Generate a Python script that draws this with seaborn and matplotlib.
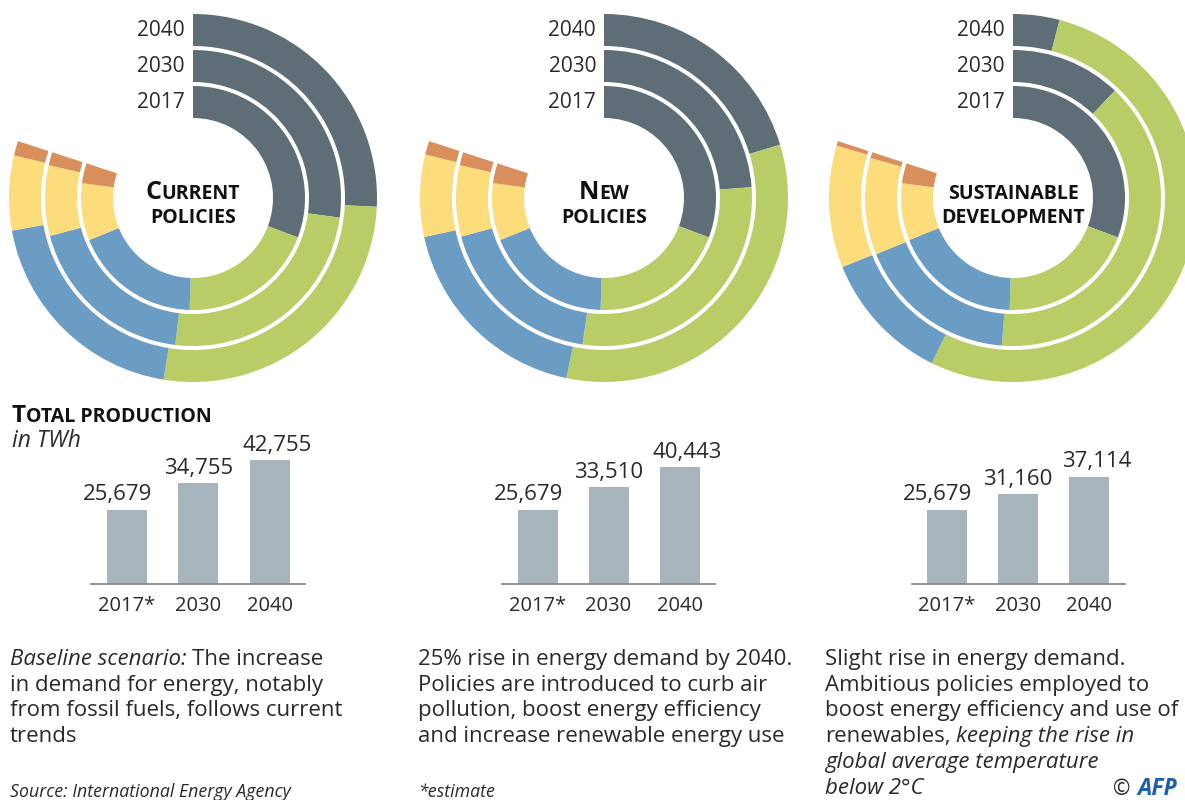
import matplotlib
matplotlib.use("Agg")
import matplotlib.pyplot as plt
import seaborn as sns

sns.set_theme(style="white")
plt.rcParams['font.family'] = ['Open Sans', 'DejaVu Sans']

# ---------------- data ----------------
ring_years = ["2017", "2030", "2040"]
sources = ["Coal", "Renewables", "Gas", "Nuclear", "Oil"]

# share of electricity generation (%)
current_2017 = [38.4, 24.7, 23.0, 10.3, 3.6]
current_2030 = [33.9, 31.0, 23.7, 9.6, 1.8]
current_2040 = [32.2, 33.5, 24.5, 8.2, 1.6]
new_2017 = [38.4, 24.7, 23.0, 10.3, 3.6]
new_2030 = [29.8, 35.6, 23.1, 9.7, 1.8]
new_2040 = [25.4, 41.2, 22.9, 9.0, 1.5]
sds_2017 = [38.4, 24.7, 23.0, 10.3, 3.6]
sds_2030 = [15.1, 48.9, 22.0, 13.2, 0.8]
sds_2040 = [5.1, 66.5, 14.5, 13.4, 0.5]

bar_labels = ["2017*", "2030", "2040"]
current_total = [25679, 34755, 42755]
new_total = [25679, 33510, 40443]
sds_total = [25679, 31160, 37114]

# ---------------- style ----------------
W, H = 1185, 800
COLORS = ['#5e6d76', '#b9cd67', '#6b9cc4', '#fddc7c', '#d98f5b']
BAR = '#a7b4bc'
TXT = '#2a2a2a'

fig = plt.figure(figsize=(W / 100, H / 100), dpi=100)
fig.patch.set_facecolor('white')
ax = fig.add_axes([0, 0, 1, 1])
renderer = fig.canvas.get_renderer()

SWEEP = 0.8  # rings cover 80% of a full circle
RING_W = 32
RADII = [112, 148, 184]
CY = 198
centers_x = [193, 604, 1013]

scenarios = [
    [current_2017, current_2030, current_2040],
    [new_2017, new_2030, new_2040],
    [sds_2017, sds_2030, sds_2040],
]

for cx, rings in zip(centers_x, scenarios):
    for r, shares in zip(RADII, rings):
        total = sum(shares)
        vals = list(shares) + [total * (1 - SWEEP) / SWEEP]
        wedges, _ = ax.pie(vals, radius=r, center=(cx, H - CY), startangle=90,
                           counterclock=False, colors=COLORS + ['white'],
                           wedgeprops=dict(width=RING_W, linewidth=0, edgecolor='none'),
                           frame=True)
        wedges[-1].set_visible(False)
    for r, yr in zip(RADII, ring_years):
        ax.text(cx - 8, H - (CY - (r - RING_W / 2)), yr, ha='right', va='center',
                fontsize=15, color=TXT)

ax.set_xlim(0, W)
ax.set_ylim(0, H)
ax.axis('off')


def text_w(s, kw):
    t = ax.text(0, 0, s, **kw)
    w = t.get_window_extent(renderer).width
    t.remove()
    return w


def draw_runs(x, y_top, runs, ha='left'):
    """runs: list of (text, kwargs, space_before). y_top is baseline from top."""
    widths = []
    gaps = []
    for s, kw, sp in runs:
        widths.append(text_w(s, kw))
        gaps.append(text_w("a a", kw) - text_w("aa", kw) if sp else 0)
    total = sum(widths) + sum(gaps)
    if ha == 'center':
        x = x - total / 2
    for (s, kw, sp), w, g in zip(runs, widths, gaps):
        x += g
        ax.text(x, H - y_top, s, ha='left', va='baseline', **kw)
        x += w


BIG = dict(fontsize=18, fontweight='bold', color='#111')
SMALL = dict(fontsize=14, fontweight='bold', color='#111')

titles = [
    [[("C", BIG, False), ("URRENT", SMALL, False)], [("POLICIES", SMALL, False)]],
    [[("N", BIG, False), ("EW", SMALL, False)], [("POLICIES", SMALL, False)]],
    [[("SUSTAINABLE", SMALL, False)], [("DEVELOPMENT", SMALL, False)]],
]
for cx, (l1, l2) in zip(centers_x, titles):
    draw_runs(cx, 199, l1, ha='center')
    draw_runs(cx, 223, l2, ha='center')

# bar title
draw_runs(12, 422, [("T", dict(fontsize=17.5, fontweight='bold', color='#111'), False),
                    ("OTAL PRODUCTION", dict(fontsize=14, fontweight='bold', color='#111'), False)])
ax.text(12, H - 447, "in TWh", fontsize=16.5, fontstyle='italic', color=TXT, va='baseline')

# ---------------- bar charts ----------------
bar_specs = [
    (127.0, 71.25, current_total),
    (537.5, 71.0, new_total),
    (947.0, 71.0, sds_total),
]
BASE = 583.5
AX_H = 144
label_dx = [-9, 0, 8]
for c0, step, vals in bar_specs:
    left = c0 - step / 2
    bax = fig.add_axes([left / W, (H - BASE) / H, 3 * step / W, AX_H / H])
    sns.barplot(x=bar_labels, y=vals, color=BAR, saturation=1, width=40 / step,
                ax=bax, linewidth=0)
    bax.set_xlim(-0.5, 2.5)
    bax.set_ylim(0, 50000)
    bax.set_facecolor('none')
    for sp in ['top', 'right', 'left']:
        bax.spines[sp].set_visible(False)
    bax.spines['bottom'].set_color('#8a8a8a')
    bax.spines['bottom'].set_linewidth(1.3)
    bax.set_yticks([])
    bax.set_ylabel('')
    bax.tick_params(axis='x', length=0, pad=9, labelsize=14.5, labelcolor=TXT)
    anns = bax.bar_label(bax.containers[0], labels=[f"{v:,}" for v in vals],
                         padding=3, fontsize=16, color=TXT)
    for a, dx in zip(anns, label_dx):
        a.xyann = (dx * 0.72, 3)

# ---------------- descriptions ----------------
RG = dict(fontsize=16, color=TXT)
IT = dict(fontsize=16, color=TXT, fontstyle='italic')
desc = [
    (10, [
        [("Baseline scenario:", IT, False), ("The increase", RG, True)],
        [("in demand for energy, notably", RG, False)],
        [("from fossil fuels, follows current", RG, False)],
        [("trends", RG, False)],
    ]),
    (418, [
        [("25% rise in energy demand by 2040.", RG, False)],
        [("Policies are introduced to curb air", RG, False)],
        [("pollution, boost energy efficiency", RG, False)],
        [("and increase renewable energy use", RG, False)],
    ]),
    (825, [
        [("Slight rise in energy demand.", RG, False)],
        [("Ambitious policies employed to", RG, False)],
        [("boost energy efficiency and use of", RG, False)],
        [("renewables,", RG, False), ("keeping the rise in", IT, True)],
        [("global average temperature", IT, False)],
        [("below 2°C", IT, False)],
    ]),
]
for x0, lines in desc:
    for i, runs in enumerate(lines):
        draw_runs(x0, 665 + 25.7 * i, runs)

ax.text(10, H - 797, "Source: International Energy Agency", fontsize=12.8,
        fontstyle='italic', color=TXT, va='baseline')
ax.text(418, H - 797, "*estimate", fontsize=12.8, fontstyle='italic', color=TXT,
        va='baseline')
ax.text(1113, H - 795, "©", fontsize=15, color=TXT, va='baseline')
ax.text(1137, H - 795, "AFP", fontsize=16.5, color='#1d5fae', fontweight='bold',
        fontstyle='italic', va='baseline')

fig.savefig("out.png", dpi=100, facecolor='white')
